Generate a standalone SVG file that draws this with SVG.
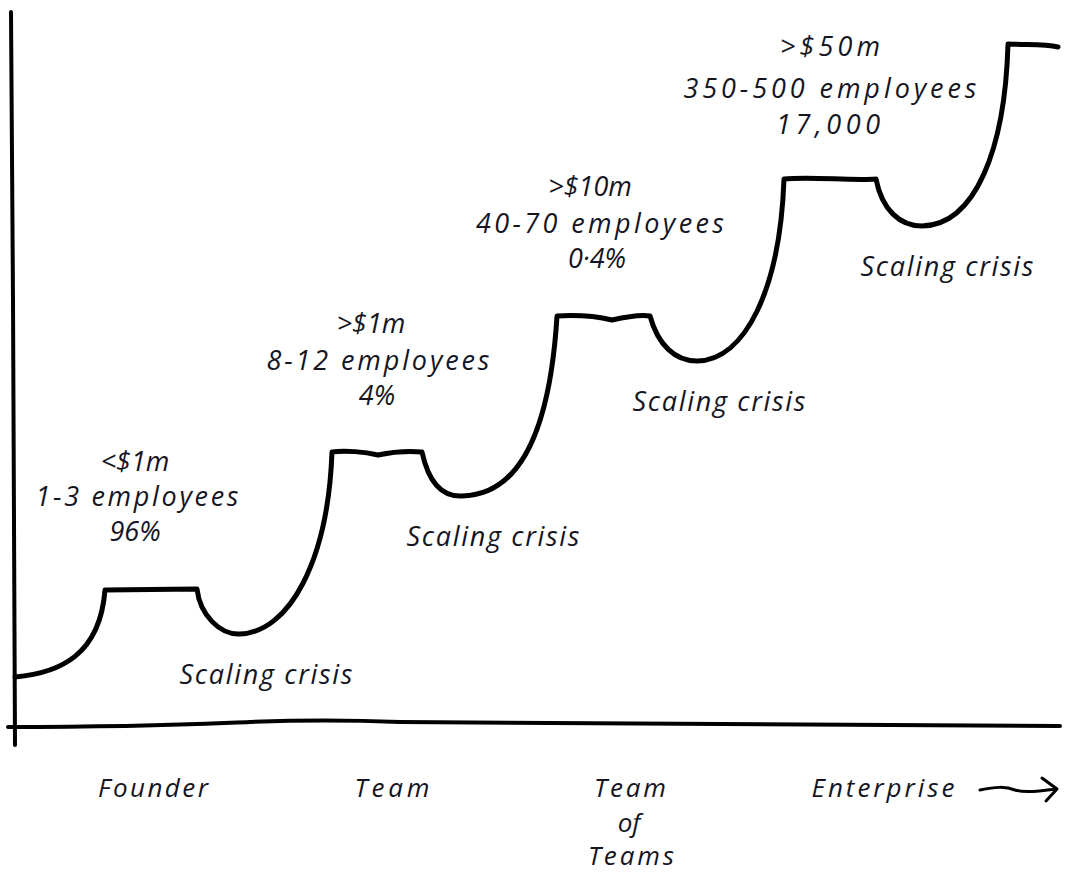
<svg xmlns="http://www.w3.org/2000/svg" width="1070" height="873" viewBox="0 0 1070 873">
<style>
.ln{fill:none;stroke:#000;stroke-linecap:round;stroke-linejoin:round}
.t{font-family:"Open Sans","DejaVu Sans",sans-serif;font-style:italic;font-size:27px;fill:#15151f;text-anchor:middle}
.b{font-family:"Open Sans","DejaVu Sans",sans-serif;font-style:italic;font-size:26px;fill:#15151f;text-anchor:middle}
</style>
<rect width="1070" height="873" fill="#fff"/>
<g id="axes">
<path class="ln" stroke-width="4" d="M11,12 L13,300 L15,745"/>
<path class="ln" stroke-width="4" d="M8,727 C150,727 200,724 250,722 C300,720 350,720 400,722 C600,725 800,726 1060,726"/>
</g>
<g id="curve">
<path class="ln" stroke-width="5" d="M15,677 C60,673 100,655 105,590 L197,589 C200,615 220,635 240,634 C290,632 328,560 332,452 C345,450 365,452 378,455 C392,452 410,451 422,452 C428,480 440,497 462,496 C520,495 550,430 557,316 C575,315 595,316 612,320 C625,317 640,314 650,316 C658,345 675,361 697,361 C745,360 780,290 784,179 C810,176 850,181 876,179 C882,210 900,226 922,226 C975,225 1005,150 1008,44 C1030,45 1045,44 1058,47"/>
</g>
<g id="stage1">
<text class="t" x="135" y="471">&lt;$1m</text>
<text class="t" x="137" y="506" textLength="203">1-3 employees</text>
<text class="t" x="135" y="541">96%</text>
<text class="t" x="266" y="684" textLength="173">Scaling crisis</text>
</g>
<g id="stage2">
<text class="t" x="371" y="333">&gt;$1m</text>
<text class="t" x="378" y="370" textLength="223">8-12 employees</text>
<text class="t" x="377" y="405">4%</text>
<text class="t" x="493" y="546" textLength="173">Scaling crisis</text>
</g>
<g id="stage3">
<text class="t" x="590" y="196">&gt;$10m</text>
<text class="t" x="600" y="233" textLength="248">40-70 employees</text>
<text class="t" x="597" y="268">0·4%</text>
<text class="t" x="719" y="411" textLength="173">Scaling crisis</text>
</g>
<g id="stage4">
<text class="t" x="830" y="56" textLength="100">&gt;$50m</text>
<text class="t" x="830" y="98" textLength="293">350-500 employees</text>
<text class="t" x="828" y="134" textLength="104">17,000</text>
<text class="t" x="947" y="276" textLength="173">Scaling crisis</text>
</g>
<g id="labels">
<text class="b" x="153" y="797" textLength="110">Founder</text>
<text class="b" x="392" y="797" textLength="75">Team</text>
<text class="b" x="630" y="797" textLength="72">Team</text>
<text class="b" x="629" y="832">of</text>
<text class="b" x="631" y="865" textLength="86">Teams</text>
<text class="b" x="883" y="797" textLength="143">Enterprise</text>
</g>
<g id="arrow">
<path class="ln" stroke-width="3" d="M980,790 C995,787 1005,786 1015,790 C1025,793 1040,791 1056,789"/>
<path class="ln" stroke-width="3" d="M1042,778 L1057,789 L1046,801"/>
</g>
</svg>
